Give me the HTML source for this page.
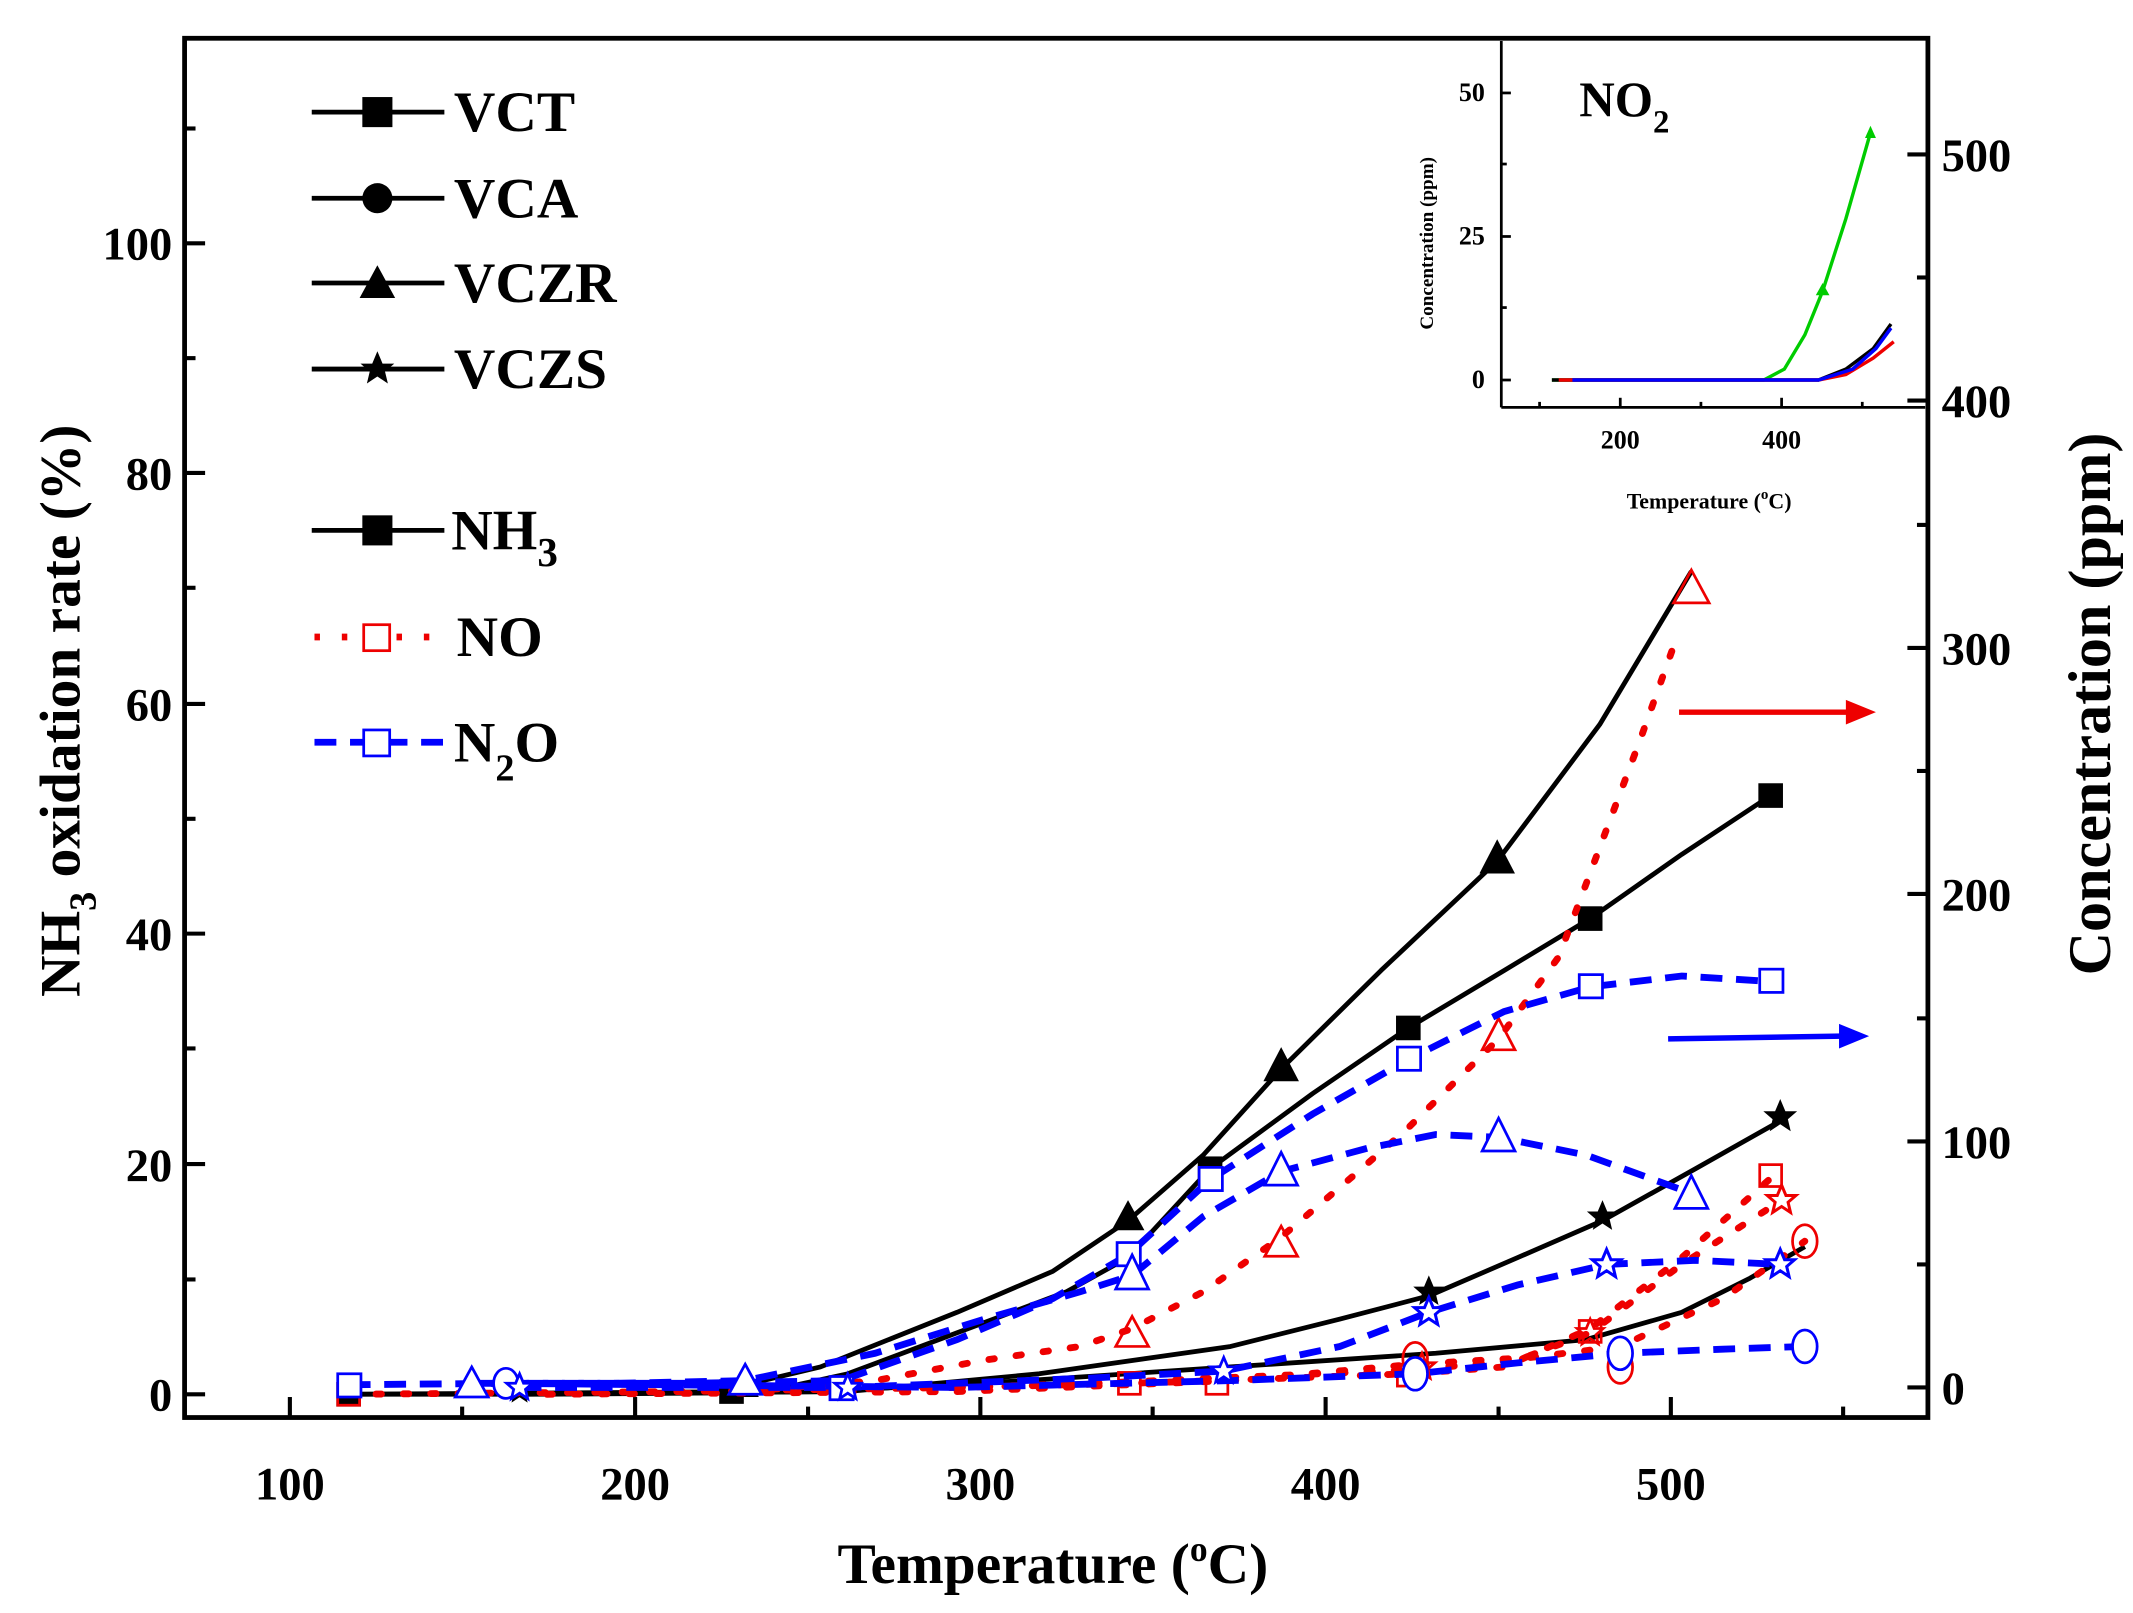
<!DOCTYPE html>
<html><head><meta charset="utf-8"><style>
html,body{margin:0;padding:0;background:#fff;}
svg{display:block;}
text{font-family:"Liberation Serif",serif;font-weight:bold;}
</style></head><body>
<svg width="2133" height="1613" viewBox="0 0 1560 1180" preserveAspectRatio="none" xmlns="http://www.w3.org/2000/svg">
<defs>
<path id="st" d="M0,-10 L2.9,-3.1 L9.5,-3.1 L4.3,1.4 L5.9,8.1 L0,4.2 L-5.9,8.1 L-4.3,1.4 L-9.5,-3.1 L-2.9,-3.1Z"/>
</defs>
<rect x="135" y="28" width="1275" height="1009" fill="none" stroke="#000" stroke-width="3.5"/>
<g stroke="#000" stroke-width="3">
<line x1="135" y1="1020" x2="150" y2="1020"/><line x1="135" y1="851.6" x2="150" y2="851.6"/><line x1="135" y1="683" x2="150" y2="683"/><line x1="135" y1="515" x2="150" y2="515"/><line x1="135" y1="346" x2="150" y2="346"/><line x1="135" y1="178" x2="150" y2="178"/>
<line x1="135" y1="936" x2="143" y2="936"/><line x1="135" y1="767" x2="143" y2="767"/><line x1="135" y1="599" x2="143" y2="599"/><line x1="135" y1="430" x2="143" y2="430"/><line x1="135" y1="262" x2="143" y2="262"/><line x1="135" y1="94" x2="143" y2="94"/>
<line x1="212" y1="1037" x2="212" y2="1022"/><line x1="464.5" y1="1037" x2="464.5" y2="1022"/><line x1="717" y1="1037" x2="717" y2="1022"/><line x1="969.5" y1="1037" x2="969.5" y2="1022"/><line x1="1222" y1="1037" x2="1222" y2="1022"/>
<line x1="338" y1="1037" x2="338" y2="1029"/><line x1="591" y1="1037" x2="591" y2="1029"/><line x1="843" y1="1037" x2="843" y2="1029"/><line x1="1096" y1="1037" x2="1096" y2="1029"/><line x1="1348" y1="1037" x2="1348" y2="1029"/>
<line x1="1395" y1="1015" x2="1410" y2="1015"/><line x1="1395" y1="835" x2="1410" y2="835"/><line x1="1395" y1="654" x2="1410" y2="654"/><line x1="1395" y1="474" x2="1410" y2="474"/><line x1="1395" y1="293" x2="1410" y2="293"/><line x1="1395" y1="113" x2="1410" y2="113"/>
<line x1="1402" y1="925" x2="1410" y2="925"/><line x1="1402" y1="745" x2="1410" y2="745"/><line x1="1402" y1="564" x2="1410" y2="564"/><line x1="1402" y1="384" x2="1410" y2="384"/><line x1="1402" y1="203" x2="1410" y2="203"/>
</g>
<g font-size="34" text-anchor="end">
<text x="126" y="1032">0</text><text x="126" y="864">20</text><text x="126" y="695">40</text><text x="126" y="527">60</text><text x="126" y="358">80</text><text x="126" y="190">100</text>
</g>
<g font-size="34" text-anchor="middle">
<text x="212" y="1097">100</text><text x="464.5" y="1097">200</text><text x="717" y="1097">300</text><text x="969.5" y="1097">400</text><text x="1222" y="1097">500</text>
</g>
<g font-size="34" text-anchor="start">
<text x="1420" y="1027">0</text><text x="1420" y="847">100</text><text x="1420" y="666">200</text><text x="1420" y="486">300</text><text x="1420" y="305">400</text><text x="1420" y="125">500</text>
</g>
<text x="770" y="1158" font-size="42" text-anchor="middle">Temperature (<tspan font-size="26" dy="-16">o</tspan><tspan dy="16">C)</tspan></text>
<text transform="translate(58,520) rotate(-90)" font-size="42" text-anchor="middle">NH<tspan font-size="28" dy="12">3</tspan><tspan dy="-12"> oxidation rate (%)</tspan></text>
<text transform="translate(1543,515) rotate(-90)" font-size="44" text-anchor="middle">Concentration (ppm)</text>

<g stroke="#000" stroke-width="3.5">
<line x1="228" y1="82" x2="325" y2="82"/><line x1="228" y1="145" x2="325" y2="145"/><line x1="228" y1="207" x2="325" y2="207"/><line x1="228" y1="270" x2="325" y2="270"/><line x1="228" y1="388" x2="325" y2="388"/>
</g>
<rect x="265" y="71" width="22" height="22" fill="#000"/>
<circle cx="276" cy="145" r="11" fill="#000"/>
<polygon points="276,194 289,218 263,218" fill="#000"/>
<use href="#st" transform="translate(276,270) scale(1.3)" fill="#000"/>
<rect x="265" y="377" width="22" height="22" fill="#000"/>
<line x1="230" y1="466" x2="325" y2="466" stroke="#e00" stroke-width="5" stroke-dasharray="4,16"/>
<rect x="266" y="457" width="19" height="19" fill="#fff" stroke="#e00" stroke-width="2"/>
<line x1="230" y1="543" x2="325" y2="543" stroke="#00f" stroke-width="5" stroke-dasharray="16,10"/>
<rect x="266" y="534" width="19" height="19" fill="#fff" stroke="#00f" stroke-width="2"/>
<g font-size="42">
<text x="332" y="96">VCT</text><text x="332" y="159">VCA</text><text x="332" y="221">VCZR</text><text x="332" y="284">VCZS</text>
<text x="330" y="402">NH<tspan font-size="30" dy="12">3</tspan></text>
<text x="334" y="480">NO</text>
<text x="332" y="557">N<tspan font-size="28" dy="14">2</tspan><tspan dy="-14">O</tspan></text>
</g>

<g fill="none" stroke="#000" stroke-width="3.5" stroke-linejoin="round">
<polyline points="255,1020 400,1020 520,1019 600,1000 700,960 770,930 825,893 880,845 937,782 1010,710 1095,630 1170,530 1237,418"/>
<polyline points="255,1020 560,1018 620,1005 700,975 780,945 825,920 885,855 960,800 1030,752 1100,710 1163,672 1230,625 1295,582"/>
<polyline points="380,1020 620,1018 760,1005 900,985 980,965 1045,948 1110,920 1172,893 1240,855 1302,820"/>
<polyline points="370,1020 600,1018 750,1010 900,1000 1050,990 1160,980 1230,960 1280,935 1320,912"/>
</g>
<g fill="#000">
<rect x="246" y="1011" width="18" height="18"/><rect x="526" y="1009" width="18" height="18"/><rect x="876" y="846" width="18" height="18"/><rect x="1021" y="743" width="18" height="18"/><rect x="1154" y="663" width="18" height="18"/><rect x="1286" y="573" width="18" height="18"/>
<polygon points="825,878 837,900 813,900"/><polygon points="937,766 950,791 924,791"/><polygon points="1095,614 1108,639 1082,639"/><polygon points="545,1005 555,1022 535,1022"/>
<use href="#st" transform="translate(1045,945) scale(1.2)"/><use href="#st" transform="translate(1172,890) scale(1.2)"/><use href="#st" transform="translate(1302,817) scale(1.3)"/><use href="#st" transform="translate(380,1018)"/><use href="#st" transform="translate(620,1016)"/>
</g>

<g fill="none" stroke="#e00" stroke-width="5" stroke-dasharray="4,16" stroke-linecap="round">
<polyline points="545,1018 640,1010 720,995 790,985 828,972 880,945 937,905 990,860 1030,825 1096,760 1140,700 1170,620 1200,540 1225,470"/>
<polyline points="255,1020 500,1018 700,1015 825,1012 890,1010 1030,1005 1100,1000 1163,972 1230,920 1295,862"/>
<polyline points="400,1020 700,1018 900,1010 1035,998 1120,993 1185,985 1260,950 1320,908"/>
<polyline points="600,1018 800,1012 1035,1002 1110,995 1163,975 1230,925 1303,878"/>
</g>
<g fill="none" stroke="#e00" stroke-width="2">
<polygon points="828,963 840,985 816,985"/><polygon points="937,897 949,919 925,919"/><polygon points="1096,745 1108,768 1084,768"/><polygon points="1237,417 1250,441 1224,441"/>
<rect x="818" y="1004" width="16" height="16"/><rect x="882" y="1004" width="16" height="16"/><rect x="1022" y="998" width="16" height="16"/><rect x="1155" y="966" width="16" height="16"/><rect x="1287" y="852" width="16" height="16"/><rect x="247" y="1012" width="16" height="16"/>
<ellipse cx="1035" cy="994" rx="9" ry="12"/><ellipse cx="1185" cy="1000" rx="9" ry="12"/><ellipse cx="1320" cy="908" rx="9" ry="12"/>
<use href="#st" transform="translate(1163,975)"/><use href="#st" transform="translate(1303,878) scale(1.1)"/><use href="#st" transform="translate(1040,1000)"/>
</g>

<g fill="none" stroke="#00f" stroke-width="5" stroke-dasharray="16,10">
<polyline points="255,1013 370,1012 500,1012 615,1010 700,980 770,950 825,918 885,863 960,815 1030,775 1100,740 1163,722 1230,714 1295,718"/>
<polyline points="345,1012 450,1012 545,1010 640,990 720,965 790,945 828,933 880,890 937,857 1000,840 1050,830 1096,832 1160,845 1237,873"/>
<polyline points="380,1015 620,1015 800,1008 895,1003 980,985 1045,960 1110,940 1175,925 1240,922 1302,925"/>
<polyline points="370,1012 700,1015 900,1010 1035,1005 1110,997 1185,990 1260,987 1320,985"/>
</g>
<g fill="#fff" stroke="#00f" stroke-width="2">
<rect x="247" y="1005" width="17" height="17"/><rect x="607" y="1007" width="17" height="17"/><rect x="817" y="909" width="17" height="17"/><rect x="877" y="854" width="17" height="17"/><rect x="1022" y="766" width="17" height="17"/><rect x="1155" y="713" width="17" height="17"/><rect x="1287" y="709" width="17" height="17"/>
<polygon points="345,1000 357,1022 333,1022"/><polygon points="545,998 557,1020 533,1020"/><polygon points="828,918 840,943 816,943"/><polygon points="937,843 949,867 925,867"/><polygon points="1096,818 1108,842 1084,842"/><polygon points="1237,860 1249,884 1225,884"/>
<ellipse cx="370" cy="1012" rx="9" ry="11"/><ellipse cx="1035" cy="1005" rx="9" ry="12"/><ellipse cx="1185" cy="990" rx="9" ry="12"/><ellipse cx="1320" cy="985" rx="9" ry="12"/>
<use href="#st" transform="translate(380,1015)"/><use href="#st" transform="translate(620,1015)"/><use href="#st" transform="translate(895,1003)"/><use href="#st" transform="translate(1045,960) scale(1.1)"/><use href="#st" transform="translate(1175,925) scale(1.1)"/><use href="#st" transform="translate(1302,925) scale(1.1)"/>
</g>

<line x1="1228" y1="521" x2="1352" y2="521" stroke="#e00" stroke-width="4"/>
<polygon points="1350,512 1372,521 1350,530" fill="#e00"/>
<line x1="1220" y1="760" x2="1347" y2="758" stroke="#00f" stroke-width="4"/>
<polygon points="1345,749 1367,758 1345,767" fill="#00f"/>

<g stroke="#000" stroke-width="2" fill="none">
<line x1="1098" y1="30" x2="1098" y2="298"/><line x1="1098" y1="298" x2="1408" y2="298"/>
<line x1="1098" y1="278" x2="1105" y2="278"/><line x1="1098" y1="173" x2="1105" y2="173"/><line x1="1098" y1="68" x2="1105" y2="68"/>
<line x1="1098" y1="225" x2="1102" y2="225"/><line x1="1098" y1="120" x2="1102" y2="120"/>
<line x1="1185" y1="298" x2="1185" y2="291"/><line x1="1303" y1="298" x2="1303" y2="291"/><line x1="1126" y1="298" x2="1126" y2="294"/><line x1="1244" y1="298" x2="1244" y2="294"/><line x1="1362" y1="298" x2="1362" y2="294"/>
</g>
<g font-size="19" text-anchor="end"><text x="1086" y="284">0</text><text x="1086" y="179">25</text><text x="1086" y="74">50</text></g>
<g font-size="19" text-anchor="middle"><text x="1185" y="328">200</text><text x="1303" y="328">400</text></g>
<text x="1250" y="372" font-size="16" text-anchor="middle">Temperature (<tspan font-size="11" dy="-7">o</tspan><tspan dy="7">C)</tspan></text>
<text transform="translate(1048,178) rotate(-90)" font-size="14" text-anchor="middle">Concentration (ppm)</text>
<text x="1155" y="85" font-size="36">NO<tspan font-size="24" dy="12">2</tspan></text>
<g fill="none" stroke-width="2.5">
<polyline stroke="#0c0" points="1135,278 1290,278 1305,270 1320,245 1333,213 1350,160 1368,97"/>
<polyline stroke="#000" points="1135,278 1330,278 1350,270 1370,255 1383,237"/>
<polyline stroke="#e00" points="1140,278 1330,278 1350,274 1370,262 1385,250"/>
<polyline stroke="#00f" points="1150,278 1330,278 1355,270 1372,255 1383,240"/>
</g>
<polygon points="1368,92 1372,101 1364,101" fill="#0c0"/>
<polygon points="1333,207 1338,216 1328,216" fill="#0c0"/>
</svg>
</body></html>
